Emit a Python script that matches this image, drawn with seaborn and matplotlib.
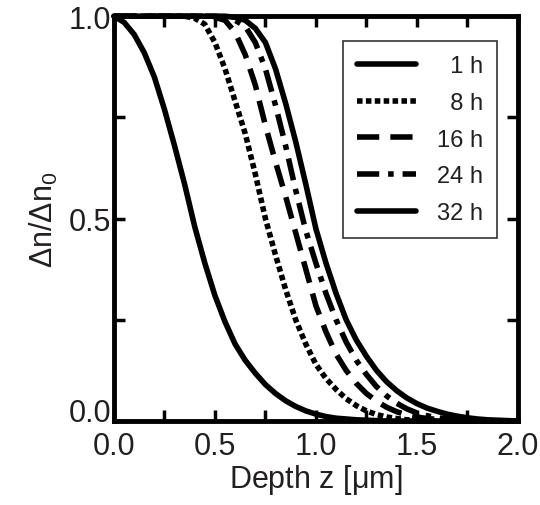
import numpy as np
import pandas as pd
import matplotlib
matplotlib.use("Agg")
import matplotlib.pyplot as plt
import matplotlib.transforms as mtransforms
import seaborn as sns

sns.set_theme(style="ticks")
plt.rcParams["font.family"] = ["Liberation Sans", "DejaVu Sans"]
plt.rcParams["mathtext.fontset"] = "custom"
plt.rcParams["mathtext.rm"] = "Liberation Sans"
plt.rcParams["mathtext.it"] = "Liberation Sans"

# Depth grid [um]
depth = [0.00, 0.05, 0.10, 0.15, 0.20, 0.25, 0.30, 0.35, 0.40, 0.45,
         0.50, 0.55, 0.60, 0.65, 0.70, 0.75, 0.80, 0.85, 0.90, 0.95,
         1.00, 1.05, 1.10, 1.15, 1.20, 1.25, 1.30, 1.35, 1.40, 1.45,
         1.50, 1.55, 1.60, 1.65, 1.70, 1.75, 1.80, 1.85, 1.90, 1.95, 2.00]

# Normalised profiles
h1 = [1.000, 0.985, 0.955, 0.910, 0.850, 0.770, 0.680, 0.585, 0.480, 0.390,
      0.310, 0.245, 0.190, 0.150, 0.118, 0.090, 0.068, 0.050, 0.036, 0.025,
      0.017, 0.011, 0.007, 0.005, 0.003, 0.002, 0.001, 0.000, 0.000, 0.000,
      0.000, 0.000, 0.000, 0.000, 0.000, 0.000, 0.000, 0.000, 0.000, 0.000, 0.000]
h8 = [1.000, 1.000, 1.000, 1.000, 1.000, 1.000, 1.000, 1.000, 0.995, 0.980,
      0.935, 0.870, 0.790, 0.710, 0.610, 0.500, 0.410, 0.325, 0.250, 0.190,
      0.140, 0.105, 0.078, 0.055, 0.038, 0.025, 0.016, 0.010, 0.006, 0.003,
      0.002, 0.001, 0.000, 0.000, 0.000, 0.000, 0.000, 0.000, 0.000, 0.000, 0.000]
h16 = [1.000, 1.000, 1.000, 1.000, 1.000, 1.000, 1.000, 1.000, 1.000, 1.000,
       0.997, 0.990, 0.960, 0.905, 0.830, 0.730, 0.640, 0.555, 0.465, 0.375,
       0.285, 0.220, 0.165, 0.125, 0.093, 0.068, 0.049, 0.034, 0.023, 0.015,
       0.010, 0.006, 0.004, 0.002, 0.001, 0.000, 0.000, 0.000, 0.000, 0.000, 0.000]
h24 = [1.000, 1.000, 1.000, 1.000, 1.000, 1.000, 1.000, 1.000, 1.000, 1.000,
       1.000, 0.997, 0.990, 0.975, 0.935, 0.870, 0.780, 0.680, 0.570, 0.470,
       0.390, 0.315, 0.250, 0.195, 0.150, 0.115, 0.085, 0.062, 0.044, 0.030,
       0.020, 0.013, 0.008, 0.005, 0.003, 0.002, 0.001, 0.000, 0.000, 0.000, 0.000]
h32 = [1.000, 1.000, 1.000, 1.000, 1.000, 1.000, 1.000, 1.000, 1.000, 1.000,
       1.000, 1.000, 0.997, 0.990, 0.970, 0.935, 0.870, 0.785, 0.690, 0.585,
       0.475, 0.390, 0.315, 0.250, 0.200, 0.160, 0.125, 0.097, 0.075, 0.057,
       0.043, 0.032, 0.024, 0.017, 0.012, 0.008, 0.005, 0.003, 0.002, 0.001, 0.000]

labels = ["  1 h", "  8 h", "16 h", "24 h", "32 h"]
series = [h1, h8, h16, h24, h32]
styles = ["-", (0, (1, 0.6)), (0, (4, 2)), (0, (4, 1.6, 1, 1.6)), "-"]

fig = plt.figure(figsize=(5.4, 5.06), dpi=100)
ax = fig.add_axes([0.211, 0.166, 0.748, 0.800])

for lab, vals, ls in zip(labels, series, styles):
    df = pd.DataFrame({"z": depth, "n": vals})
    sns.lineplot(data=df, x="z", y="n", ax=ax, color="black", lw=4,
                 linestyle=ls, label=lab, clip_on=False)
for line in ax.lines:
    line.set_dash_capstyle("butt")

ax.set_xlim(0, 2.0)
ax.set_ylim(0, 1.0)
ax.set_xticks([0.0, 0.5, 1.0, 1.5, 2.0])
ax.set_yticks([0.0, 0.5, 1.0])
ax.set_xticks([0.25, 0.75, 1.25, 1.75], minor=True)
ax.set_yticks([0.25, 0.75], minor=True)
ax.xaxis.set_major_formatter(plt.FormatStrFormatter("%.1f"))
ax.yaxis.set_major_formatter(plt.FormatStrFormatter("%.1f"))
ax.tick_params(which="both", direction="in", length=8, width=2.5,
               top=True, right=True, labelsize=22, color="black",
               labelcolor="#231f20", pad=2)
ax.tick_params(axis="x", pad=7)

for s in ax.spines.values():
    s.set_linewidth(3.5)
    s.set_color("black")

ax.set_xlabel(r"Depth z [$\mathregular{\mu}$m]", fontsize=22, color="#231f20", labelpad=1)
ax.set_ylabel(r"$\mathregular{\Delta n/\Delta n_0}$", fontsize=22, color="#231f20", labelpad=6)

# the bottom y label sits a little above the corner
fig.canvas.draw()
ylab0 = ax.get_yticklabels()[0]
ylab0.set_transform(ylab0.get_transform() +
                    mtransforms.ScaledTranslation(0, 12 / 100, fig.dpi_scale_trans))

leg = ax.legend(loc="upper right", bbox_to_anchor=(0.948, 0.938), borderaxespad=0,
                frameon=True, fancybox=False, edgecolor="black", fontsize=17,
                handlelength=2.5, handletextpad=0.85, labelspacing=0.62,
                borderpad=0.6)
leg.get_frame().set_linewidth(1.2)
for t in leg.get_texts():
    t.set_color("#231f20")

fig.savefig("out.png", dpi=100)
